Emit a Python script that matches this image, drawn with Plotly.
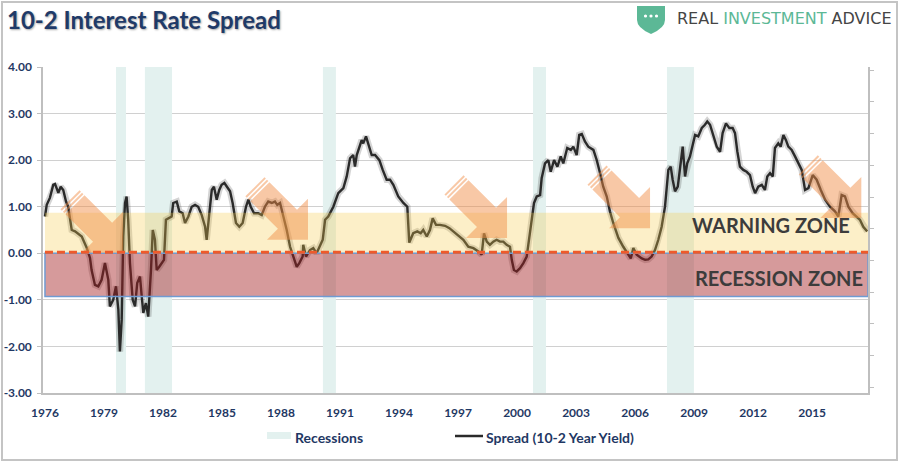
import math
import plotly.graph_objects as go

# ---------------- data ----------------
years = [
    1976.00, 1976.09, 1976.25, 1976.42, 1976.51, 1976.68, 1976.80, 1976.93, 1977.07, 1977.18,
    1977.36, 1977.53, 1977.87, 1978.12, 1978.29, 1978.37, 1978.54, 1978.71, 1978.88, 1979.05,
    1979.22, 1979.30, 1979.47, 1979.61, 1979.73, 1979.81, 1979.90, 1979.98, 1980.07, 1980.15,
    1980.23, 1980.32, 1980.46, 1980.58, 1980.69, 1980.83, 1980.92, 1981.00, 1981.13, 1981.25,
    1981.39, 1981.48, 1981.59, 1981.68, 1981.81, 1981.93, 1982.05, 1982.15, 1982.27, 1982.44,
    1982.52, 1982.70, 1982.83, 1983.00, 1983.12, 1983.29, 1983.46, 1983.63, 1983.79, 1983.97,
    1984.14, 1984.22, 1984.34, 1984.48, 1984.59, 1984.73, 1984.86, 1984.98, 1985.12, 1985.24,
    1985.41, 1985.54, 1985.71, 1985.88, 1986.05, 1986.22, 1986.34, 1986.46, 1986.63, 1986.84,
    1987.02, 1987.18, 1987.35, 1987.53, 1987.69, 1987.81, 1987.95, 1988.12, 1988.29, 1988.46,
    1988.62, 1988.80, 1988.93, 1989.10, 1989.13, 1989.27, 1989.47, 1989.64, 1989.81, 1989.98,
    1990.12, 1990.24, 1990.40, 1990.66, 1990.91, 1991.17, 1991.34, 1991.51, 1991.67, 1991.76,
    1991.85, 1992.10, 1992.18, 1992.32, 1992.44, 1992.61, 1992.78, 1993.00, 1993.17, 1993.37,
    1993.54, 1993.71, 1993.96, 1994.22, 1994.42, 1994.52, 1994.72, 1994.93, 1995.10, 1995.23,
    1995.41, 1995.57, 1995.71, 1995.88, 1996.08, 1996.34, 1996.56, 1996.76, 1997.01, 1997.27,
    1997.52, 1997.78, 1998.03, 1998.20, 1998.32, 1998.46, 1998.62, 1998.79, 1998.96, 1999.13,
    1999.30, 1999.47, 1999.64, 1999.73, 1999.84, 1999.98, 2000.15, 2000.32, 2000.49, 2000.62,
    2000.74, 2000.86, 2001.00, 2001.17, 2001.25, 2001.42, 2001.59, 2001.71, 2001.88, 2002.05,
    2002.22, 2002.35, 2002.55, 2002.73, 2002.86, 2003.03, 2003.16, 2003.29, 2003.45, 2003.62,
    2003.88, 2004.05, 2004.22, 2004.38, 2004.56, 2004.72, 2004.89, 2005.15, 2005.40, 2005.66,
    2005.78, 2005.91, 2006.08, 2006.34, 2006.51, 2006.67, 2006.84, 2007.01, 2007.18, 2007.35,
    2007.52, 2007.69, 2007.81, 2007.91, 2008.03, 2008.17, 2008.28, 2008.42, 2008.54, 2008.65,
    2008.79, 2008.93, 2009.05, 2009.21, 2009.39, 2009.55, 2009.67, 2009.81, 2009.98, 2010.15,
    2010.32, 2010.45, 2010.62, 2010.79, 2010.96, 2011.08, 2011.20, 2011.33, 2011.50, 2011.67,
    2011.84, 2011.98, 2012.10, 2012.26, 2012.44, 2012.60, 2012.72, 2012.86, 2013.00, 2013.11,
    2013.28, 2013.40, 2013.54, 2013.67, 2013.79, 2013.96, 2014.13, 2014.30, 2014.47, 2014.64,
    2014.81, 2015.03, 2015.23, 2015.44, 2015.66, 2015.91, 2016.16, 2016.33, 2016.50, 2016.67,
    2016.84, 2017.06, 2017.26, 2017.43, 2017.60, 2017.72, 2017.80,
]
spread = [
    0.79, 1.04, 1.19, 1.47, 1.49, 1.30, 1.43, 1.36, 1.11, 1.00,
    0.50, 0.47, 0.36, 0.12, -0.10, -0.36, -0.68, -0.71, -0.57, -0.21,
    -0.57, -1.14, -1.00, -0.71, -1.21, -2.11, -1.43, 0.36, 1.08, 1.22,
    0.72, -0.21, -1.00, -1.14, -0.64, -0.50, -0.93, -1.28, -1.07, -1.36,
    -0.36, 0.50, 0.29, -0.36, -0.29, -0.21, -0.14, 0.72, 0.75, 0.79,
    1.08, 1.11, 0.90, 0.86, 0.65, 0.79, 1.00, 1.04, 1.00, 0.82,
    0.57, 0.29, 0.79, 1.36, 1.43, 1.15, 1.36, 1.47, 1.51, 1.43,
    1.33, 1.08, 0.65, 0.57, 0.65, 1.00, 1.15, 1.00, 0.86, 0.86,
    0.82, 1.00, 1.11, 1.08, 1.11, 1.04, 1.08, 0.79, 0.50, 0.14,
    -0.07, -0.29, -0.21, -0.07, 0.18, -0.07, 0.07, 0.11, 0.00, 0.14,
    0.29, 0.72, 0.79, 1.00, 1.29, 1.40, 1.65, 2.04, 2.11, 1.86,
    2.11, 2.43, 2.36, 2.51, 2.36, 2.11, 2.11, 2.00, 1.79, 1.58,
    1.58, 1.47, 1.22, 1.08, 1.00, 0.23, 0.43, 0.47, 0.43, 0.50,
    0.36, 0.50, 0.75, 0.61, 0.61, 0.59, 0.54, 0.47, 0.40, 0.29,
    0.14, 0.11, 0.04, -0.03, 0.43, 0.25, 0.18, 0.25, 0.29, 0.25,
    0.25, 0.18, 0.14, -0.14, -0.36, -0.39, -0.32, -0.21, -0.07, 0.36,
    0.72, 1.08, 1.22, 1.25, 1.61, 1.93, 2.00, 1.75, 2.00, 1.86,
    2.08, 1.93, 2.26, 2.22, 2.29, 2.11, 2.54, 2.56, 2.40, 2.29,
    2.22, 2.00, 1.72, 1.43, 1.22, 0.90, 0.65, 0.33, 0.14, -0.05,
    -0.11, 0.11, -0.03, -0.11, -0.14, -0.13, -0.07, 0.07, 0.29, 0.57,
    1.00, 1.79, 1.86, 1.58, 1.33, 1.43, 1.79, 2.29, 1.65, 1.93,
    2.08, 2.36, 2.54, 2.51, 2.69, 2.76, 2.83, 2.76, 2.54, 2.29,
    2.18, 2.58, 2.79, 2.69, 2.69, 2.58, 2.18, 1.86, 1.79, 1.75,
    1.68, 1.43, 1.29, 1.43, 1.47, 1.36, 1.65, 1.72, 1.65, 2.26,
    2.36, 2.29, 2.54, 2.43, 2.29, 2.22, 2.08, 1.93, 1.79, 1.36,
    1.40, 1.68, 1.58, 1.36, 1.15, 1.00, 0.90, 0.79, 1.25, 1.22,
    1.00, 0.86, 0.79, 0.72, 0.57, 0.50, 0.47,
]

recession_start = [1979.61, 1981.08, 1990.13, 2000.81, 2007.62]
recession_end = [1980.12, 1982.46, 1990.79, 2001.47, 2008.99]

x_tick_years = [1976, 1979, 1982, 1985, 1988, 1991, 1994, 1997, 2000, 2003, 2006, 2009, 2012, 2015]
x_tick_labels = [str(y) for y in x_tick_years]
y_tick_values = [4, 3, 2, 1, 0, -1, -2, -3]
y_tick_labels = ["4.00", "3.00", "2.00", "1.00", "0.00", "-1.00", "-2.00", "-3.00"]

warning_zone = [0.0, 0.87]
recession_zone = [-0.93, 0.0]
zone_start, zone_end = 1976.0, 2017.84

arrow_tip_years = [1979.97, 1989.37, 1999.49, 2006.76, 2017.50]
arrow_tip_values = [0.01, 0.29, 0.33, 0.54, 0.76]

# ---------------- layout geometry ----------------
W, H = 900, 463
PL, PR, PT, PB = 43, 868, 67, 393          # plot area in pixels
X0, X1 = 1975.90, 2017.84
Y0, Y1 = -3.0, 4.0

NAVY = "#1F3864"
GRID = "#D0D0D0"
AXIS = "#BFBFBF"
FONT = "Lato"


def pp(px, py):
    """pixel -> paper coordinates"""
    return (px - PL) / (PR - PL), (PB - py) / (PB - PT)


def d2px(x, y):
    return PL + (x - X0) / (X1 - X0) * (PR - PL), PB - (y - Y0) / (Y1 - Y0) * (PB - PT)


def poly_path(points):
    parts = []
    for i, (px, py) in enumerate(points):
        x, y = pp(px, py)
        parts.append(("M" if i == 0 else "L") + f"{x:.5f},{y:.5f}")
    return " ".join(parts) + " Z"


fig = go.Figure()

# recession bands
fig.add_trace(go.Bar(
    x=[(s + e) / 2 for s, e in zip(recession_start, recession_end)],
    width=[e - s for s, e in zip(recession_start, recession_end)],
    y=[Y1 - Y0] * len(recession_start),
    base=Y0,
    marker=dict(color="#E3F1EF", line=dict(width=0)),
    name="Recessions", hoverinfo="skip", showlegend=False,
))

# shadow / glow of the line
fig.add_trace(go.Scatter(
    x=years, y=spread, mode="lines",
    line=dict(color="rgba(60,60,60,0.22)", width=6.5),
    hoverinfo="skip", showlegend=False,
))
fig.add_trace(go.Scatter(
    x=years, y=spread, mode="lines",
    line=dict(color="#2A2A2A", width=2.4),
    name="Spread (10-2 Year Yield)", showlegend=False,
))
# invisible trace to anchor right axis
fig.add_trace(go.Scatter(x=[X0], y=[None], yaxis="y2", mode="lines",
                         showlegend=False, hoverinfo="skip"))

shapes = []
# warning zone
shapes.append(dict(type="rect", xref="x", yref="y", x0=zone_start, x1=zone_end,
                   y0=warning_zone[0], y1=warning_zone[1],
                   fillcolor="rgba(245,202,72,0.30)", line=dict(width=0), layer="above"))
# recession zone
shapes.append(dict(type="rect", xref="x", yref="y", x0=zone_start, x1=zone_end,
                   y0=recession_zone[0], y1=recession_zone[1],
                   fillcolor="rgba(164,31,33,0.45)",
                   line=dict(color="#6F9BD2", width=1.5), layer="above"))

# arrows
s2 = 1 / math.sqrt(2)
dvec = (s2, s2)
nvec = (s2, -s2)
TOTAL, HEAD_LEN, HEAD_HW, SHAFT_HW = 75.0, 29.0, 29.0, 13.5


def pt(c, a, b):
    return (c[0] + a * dvec[0] + b * nvec[0], c[1] + a * dvec[1] + b * nvec[1])


for ax_, ay_ in zip(arrow_tip_years, arrow_tip_values):
    tip = d2px(ax_, ay_)
    tail = pt(tip, -TOTAL, 0)
    base_a = TOTAL - HEAD_LEN
    main = [pt(tail, 7.0, SHAFT_HW), pt(tail, base_a, SHAFT_HW), pt(tail, base_a, HEAD_HW),
            pt(tail, TOTAL, 0), pt(tail, base_a, -HEAD_HW), pt(tail, base_a, -SHAFT_HW),
            pt(tail, 7.0, -SHAFT_HW)]
    style = dict(type="path", xref="paper", yref="paper",
                 fillcolor="rgba(240,140,70,0.48)", line=dict(width=0), layer="above")
    shapes.append(dict(path=poly_path(main), **style))
    for a0, a1 in [(0.0, 2.0), (3.5, 5.5)]:
        bar = [pt(tail, a0, SHAFT_HW), pt(tail, a1, SHAFT_HW),
               pt(tail, a1, -SHAFT_HW), pt(tail, a0, -SHAFT_HW)]
        shapes.append(dict(path=poly_path(bar), **style))

# red dashed zero line
shapes.append(dict(type="line", xref="x", yref="y", x0=zone_start, x1=zone_end, y0=0.02, y1=0.02,
                   line=dict(color="#EE5A2B", width=3, dash="8px,4px"), layer="above"))

# frame
fx0, fy0 = pp(2, 2)
fx1, fy1 = pp(897, 460)
shapes.append(dict(type="rect", xref="paper", yref="paper", x0=fx0, y0=fy0, x1=fx1, y1=fy1,
                   line=dict(color="#C4C4C4", width=2), fillcolor="rgba(0,0,0,0)", layer="above"))

# logo shield
sx = lambda v: pp(v, 0)[0]
sy = lambda v: pp(0, v)[1]
shield = (f"M{sx(637):.5f},{sy(6):.5f} L{sx(665):.5f},{sy(6):.5f} L{sx(665):.5f},{sy(20):.5f} "
          f"Q{sx(665):.5f},{sy(28):.5f} {sx(651):.5f},{sy(34):.5f} "
          f"Q{sx(637):.5f},{sy(28):.5f} {sx(637):.5f},{sy(20):.5f} Z")
shapes.append(dict(type="path", xref="paper", yref="paper", path=shield,
                   fillcolor="#5CB896", line=dict(width=0), layer="above"))
for cxp in (645.5, 651, 656.5):
    shapes.append(dict(type="circle", xref="paper", yref="paper",
                       x0=sx(cxp - 1.6), x1=sx(cxp + 1.6), y0=sy(17.6), y1=sy(14.4),
                       fillcolor="white", line=dict(width=0), layer="above"))

# legend swatches
lx0, ly0 = pp(267, 439)
lx1, ly1 = pp(291, 432)
shapes.append(dict(type="rect", xref="paper", yref="paper", x0=lx0, y0=ly0, x1=lx1, y1=ly1,
                   fillcolor="#E3F1EF", line=dict(width=0), layer="above"))
sx0, syl = pp(455, 436)
sx1, _ = pp(483, 436)
shapes.append(dict(type="line", xref="paper", yref="paper", x0=sx0, x1=sx1, y0=syl, y1=syl,
                   line=dict(color="#2A2A2A", width=2.5), layer="above"))

annotations = []


def ann_px(px, py, text, size, color, xanchor="left", weight="bold", family=FONT, shadow=None):
    x, y = pp(px, py)
    f = dict(family=family, size=size, color=color, weight=weight)
    if shadow:
        f["shadow"] = shadow
    annotations.append(dict(xref="paper", yref="paper", x=x, y=y, text=text, showarrow=False,
                            xanchor=xanchor, yanchor="middle", font=f))


ann_px(5, 20, "10-2 Interest Rate Spread", 24, "#1F3A68",
       shadow="1px 1px 2px rgba(0,0,0,0.35)")
ann_px(675, 19, "<span style='color:#454545'>REAL </span><span style='color:#5CB896'>INVESTMENT</span>"
       "<span style='color:#454545'> ADVICE</span>", 16, "#454545", weight="normal",
       family="DejaVu Sans")
ann_px(293, 437, "Recessions", 14, NAVY)
ann_px(484, 437, "Spread (10-2 Year Yield)", 14, NAVY)

annotations.append(dict(xref="x", yref="y", x=2012.93, y=0.60, text="WARNING ZONE", showarrow=False,
                        xanchor="center", yanchor="middle",
                        font=dict(family=FONT, size=20, color="#3C3C3C", weight="bold")))
annotations.append(dict(xref="x", yref="y", x=2013.34, y=-0.52, text="RECESSION ZONE", showarrow=False,
                        xanchor="center", yanchor="middle",
                        font=dict(family=FONT, size=20, color="#3C3C3C", weight="bold")))

fig.update_layout(
    width=W, height=H,
    margin=dict(l=PL, r=W - PR, t=PT, b=H - PB, pad=0, autoexpand=False),
    paper_bgcolor="white", plot_bgcolor="white",
    showlegend=False, barmode="overlay",
    xaxis=dict(range=[X0, X1], tickvals=x_tick_years, ticktext=x_tick_labels, automargin=False,
               showgrid=False, zeroline=False, showline=True, linecolor=AXIS, linewidth=1.5,
               ticks="", ticklabelstandoff=8,
               tickfont=dict(family=FONT, size=12, color=NAVY, weight="bold")),
    yaxis=dict(range=[Y0, Y1], tickvals=y_tick_values, ticktext=y_tick_labels, automargin=False,
               showgrid=True, gridcolor=GRID, gridwidth=1.3, zeroline=False,
               showline=True, linecolor=AXIS, linewidth=1.5,
               ticks="outside", ticklen=4, tickcolor=AXIS, tickwidth=1.3, ticklabelstandoff=3,
               tickfont=dict(family=FONT, size=12, color=NAVY, weight="bold")),
    yaxis2=dict(overlaying="y", side="right", range=[-0.18, 10.1], tick0=0, dtick=1, automargin=False,
                ticks="outside", ticklen=4, tickcolor=AXIS, tickwidth=1.3,
                showticklabels=False, showgrid=False, zeroline=False,
                showline=True, linecolor=AXIS, linewidth=1.5),
    shapes=shapes, annotations=annotations,
)

fig.write_html("out.html", config={"displayModeBar": False},
               post_script="document.body.style.margin='0';")
